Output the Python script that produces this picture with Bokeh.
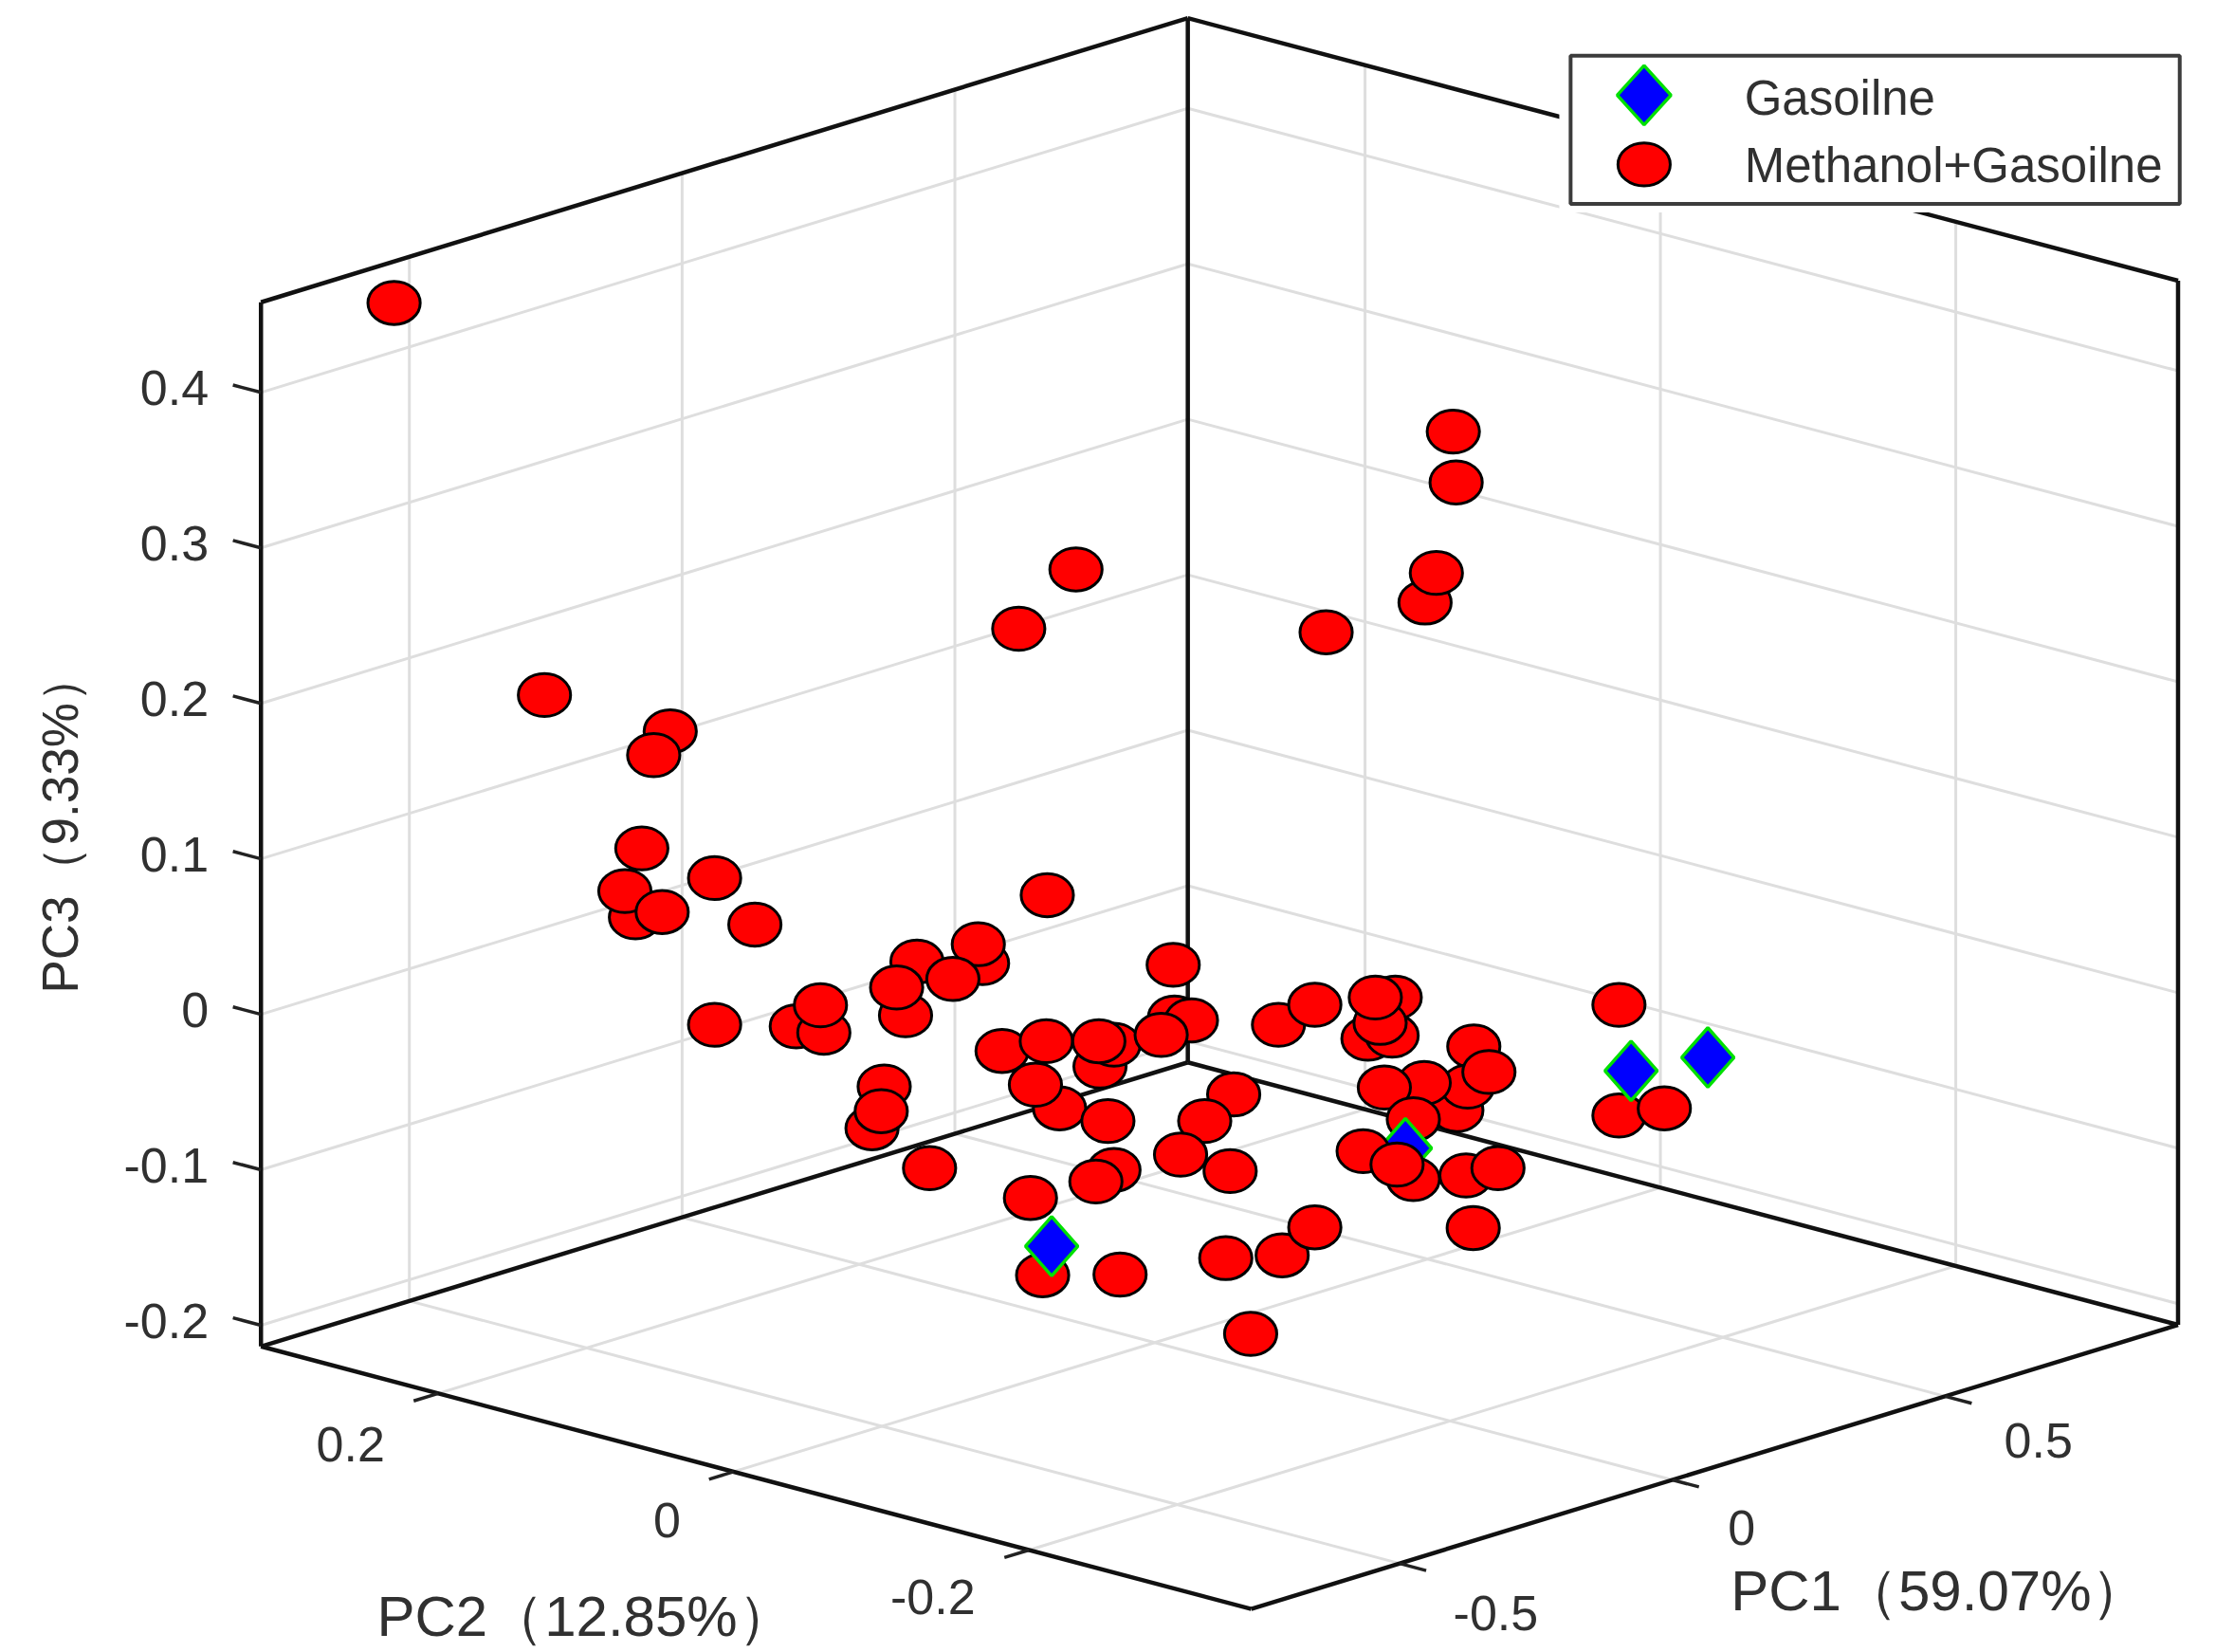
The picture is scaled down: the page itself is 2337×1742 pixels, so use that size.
from bokeh.plotting import figure
from bokeh.models import Range1d
from bokeh.core.properties import value
from bokeh.embed import file_html
from bokeh.resources import INLINE

# ---- data: positions of the samples on the projection plane ----
red_back_h = [278.5, 384.9, 473.9, 462.2, 453.8, 449.3, 441.8, 468.2, 505.3, 533.8, 505.3, 563.1, 582.6, 580.2,
              761, 720.5, 740.7, 648.5, 694.9, 691.9, 673.9, 640.4, 634.1, 616.7, 625.3, 623.2, 657.4, 708.7,
              749.4, 740, 732.3, 778, 787.9, 777.2, 783.6, 787.9, 775.1, 728.8, 737.4, 792.2, 829.8, 830.7, 842.7,
              821.3, 872.6, 852.1, 835, 870.1, 867, 906.9, 930, 884.6, 904.3, 930, 986.9, 967.6, 984.7,
              976.2, 972.8, 1042.5, 1030.5, 1038.2, 1007.4, 1053.2, 979.2, 999.7, 1037, 1059.6, 1042.1,
              1145.2, 1145.2, 1177.3, 1028, 1030, 1008, 1016, 938]
red_back_v = [214, 491.4, 517.1, 533.9, 599.9, 648.7, 630.1, 644.9, 620.9, 653.8, 724.7, 725.8, 730.3, 710.9,
              402.5, 444.5, 633, 680, 681.1, 667.7, 692.3, 718, 698.3, 797.9, 768.4, 785.8, 826.1, 743.2,
              783.8, 736.3, 767.1, 754.2, 738.8, 736.3, 792.8, 827.4, 835.6, 847.2, 901.9, 901.4, 682.3, 719.6, 721.6,
              731.9, 774, 792.8, 816.6, 828.2, 889.8, 887.8, 868, 943.4, 724.7, 710.6, 705.4, 734.5, 732.4,
              723.4, 705.4, 740.1, 785.1, 768.4, 765.8, 758.1, 769.1, 791.5, 831.3, 826.1, 868.5,
              710.6, 788.9, 783.8, 305, 341, 426, 405, 447]
gasoline_h = [743.8, 1153.8, 1208.1, 994.1]
gasoline_v = [881.4, 757.3, 747.8, 812]
red_front_h = [964.2, 999.7, 988.2]
red_front_v = [814.1, 833.9, 823.6]

pc1_ticks = [-0.5, 0, 0.5]
pc2_ticks = [0.2, 0, -0.2]
pc3_ticks = [0.4, 0.3, 0.2, 0.1, 0, -0.1, -0.2]
pc1_labels = ["-0.5", "0", "0.5"]
pc2_labels = ["0.2", "0", "-0.2"]
pc3_labels = ["0.4", "0.3", "0.2", "0.1", "0", "-0.1", "-0.2"]
pc1_lim = (-0.772, 0.927)
pc2_lim = (-0.3505, 0.32)
pc3_lim = (-0.2136, 0.458)
series_names = ["Gasoilne", "Methanol+Gasoilne"]
axis_titles = ["PC1\uff0859.07%\uff09", "PC2\uff0812.85%\uff09", "PC3\uff089.33%\uff09"]

# ---- orthographic projection of the box ----
S = 2337 / 1568
def proj(a, b, c):
    dx = (a - pc1_lim[0]) * 386 - (b - pc2_lim[0]) * 1045
    dy = -(a - pc1_lim[0]) * 118.3 - (b - pc2_lim[0]) * 277 - (c - pc3_lim[0]) * 1100
    return 885 + dx, 1138 + dy

W, H = 2337, 1742
p = figure(width=W, height=H, output_backend="svg", toolbar_location=None,
           x_range=Range1d(0, W / S), y_range=Range1d(H / S, 0),
           min_border=0, outline_line_color=None)
p.xaxis.visible = False
p.yaxis.visible = False
p.xgrid.visible = False
p.ygrid.visible = False

def seg(pairs, color, width):
    xs, ys = [], []
    for A, B in pairs:
        x0, y0 = proj(*A)
        x1, y1 = proj(*B)
        xs.append([x0, x1])
        ys.append([y0, y1])
    p.multi_line(xs, ys, line_color=color, line_width=width)

a0, a1 = pc1_lim
b0, b1 = pc2_lim
c0, c1 = pc3_lim
GRID = "#dedede"
grid = []
for a in pc1_ticks:
    grid.append(((a, b0, c0), (a, b1, c0)))
    grid.append(((a, b1, c0), (a, b1, c1)))
for b in pc2_ticks:
    grid.append(((a0, b, c0), (a1, b, c0)))
    grid.append(((a1, b, c0), (a1, b, c1)))
for c in pc3_ticks:
    grid.append(((a0, b1, c), (a1, b1, c)))
    grid.append(((a1, b1, c), (a1, b0, c)))
seg(grid, GRID, 3)

frame = [((a0, b1, c0), (a0, b0, c0)), ((a0, b0, c0), (a1, b0, c0)),
         ((a0, b1, c0), (a1, b1, c0)), ((a1, b1, c0), (a1, b0, c0)),
         ((a0, b1, c0), (a0, b1, c1)), ((a1, b1, c0), (a1, b1, c1)), ((a1, b0, c0), (a1, b0, c1)),
         ((a0, b1, c1), (a1, b1, c1)), ((a1, b1, c1), (a1, b0, c1))]
seg(frame, "#111111", 4.5)

ticks = []
for c in pc3_ticks:
    ticks.append(((a0, b1, c), (a0, b1 + 0.019, c)))
for b in pc2_ticks:
    ticks.append(((a0, b, c0), (a0 - 0.045, b, c0)))
for a in pc1_ticks:
    ticks.append(((a, b0, c0), (a, b0 - 0.018, c0)))
seg(ticks, "#222222", 3.5)

FONT = value("Liberation Sans")
TXT = "#303030"
tick_px = "52px"

# tick labels, placed from the tick values
lx, ly = zip(*[proj(a0, b1, c) for c in pc3_ticks])
p.text([x - 37 for x in lx], [y - 3 for y in ly], text=pc3_labels, text_font=FONT, text_font_size=tick_px,
       text_color=TXT, text_align="right", text_baseline="middle")
pc2_off = [(-62, 36), (-47, 34), (-68, 33)]
lx, ly = zip(*[proj(a0, b, c0) for b in pc2_ticks])
p.text([x + o[0] for x, o in zip(lx, pc2_off)], [y + o[1] for y, o in zip(ly, pc2_off)], text=pc2_labels,
       text_font=FONT, text_font_size=tick_px, text_color=TXT, text_align="center", text_baseline="middle")
pc1_off = [(68, 35), (49, 34), (66, 31)]
lx, ly = zip(*[proj(a, b0, c0) for a in pc1_ticks])
p.text([x + o[0] for x, o in zip(lx, pc1_off)], [y + o[1] for y, o in zip(ly, pc1_off)], text=pc1_labels,
       text_font=FONT, text_font_size=tick_px, text_color=TXT, text_align="center", text_baseline="middle")

# axis titles
p.text([1372], [1125], text=[axis_titles[0]], text_font=FONT, text_font_size="60px", text_color=TXT,
       text_align="center", text_baseline="middle")
p.text([414], [1143], text=[axis_titles[1]], text_font=FONT, text_font_size="60px", text_color=TXT,
       text_align="center", text_baseline="middle")
p.text([42], [582], text=[axis_titles[2]], text_font=FONT, text_font_size="53px", text_color=TXT,
       text_align="center", text_baseline="middle", angle=1.5708)

# markers
EW, EH = 37, 30.5
def reds(h, v):
    p.ellipse(h, v, width=EW, height=EH, fill_color="#ff0000", line_color="#000000", line_width=3)
def diamonds(h, v, dw=18.5, dh=21):
    p.patches([[x - dw, x, x + dw, x] for x in h], [[y, y - dh, y, y + dh] for y in v],
              fill_color="#0000ff", line_color="#00e000", line_width=3.5)

reds(red_back_h, red_back_v)
diamonds(gasoline_h, gasoline_v)
reds(red_front_h, red_front_v)

# legend
p.quad(left=[1103], right=[1549], top=[32], bottom=[150], fill_color="#ffffff", line_color=None)
p.quad(left=[1111], right=[1542], top=[39], bottom=[144], fill_color="#ffffff", line_color="#3c3c3c", line_width=4)
diamonds([1163], [67], 19, 21)
reds([1163], [116])
p.text([1234, 1234], [69, 117], text=series_names, text_font=FONT, text_font_size="51px", text_color=TXT,
       text_align="left", text_baseline="middle")

open("out.html", "w").write(file_html(p, INLINE))
